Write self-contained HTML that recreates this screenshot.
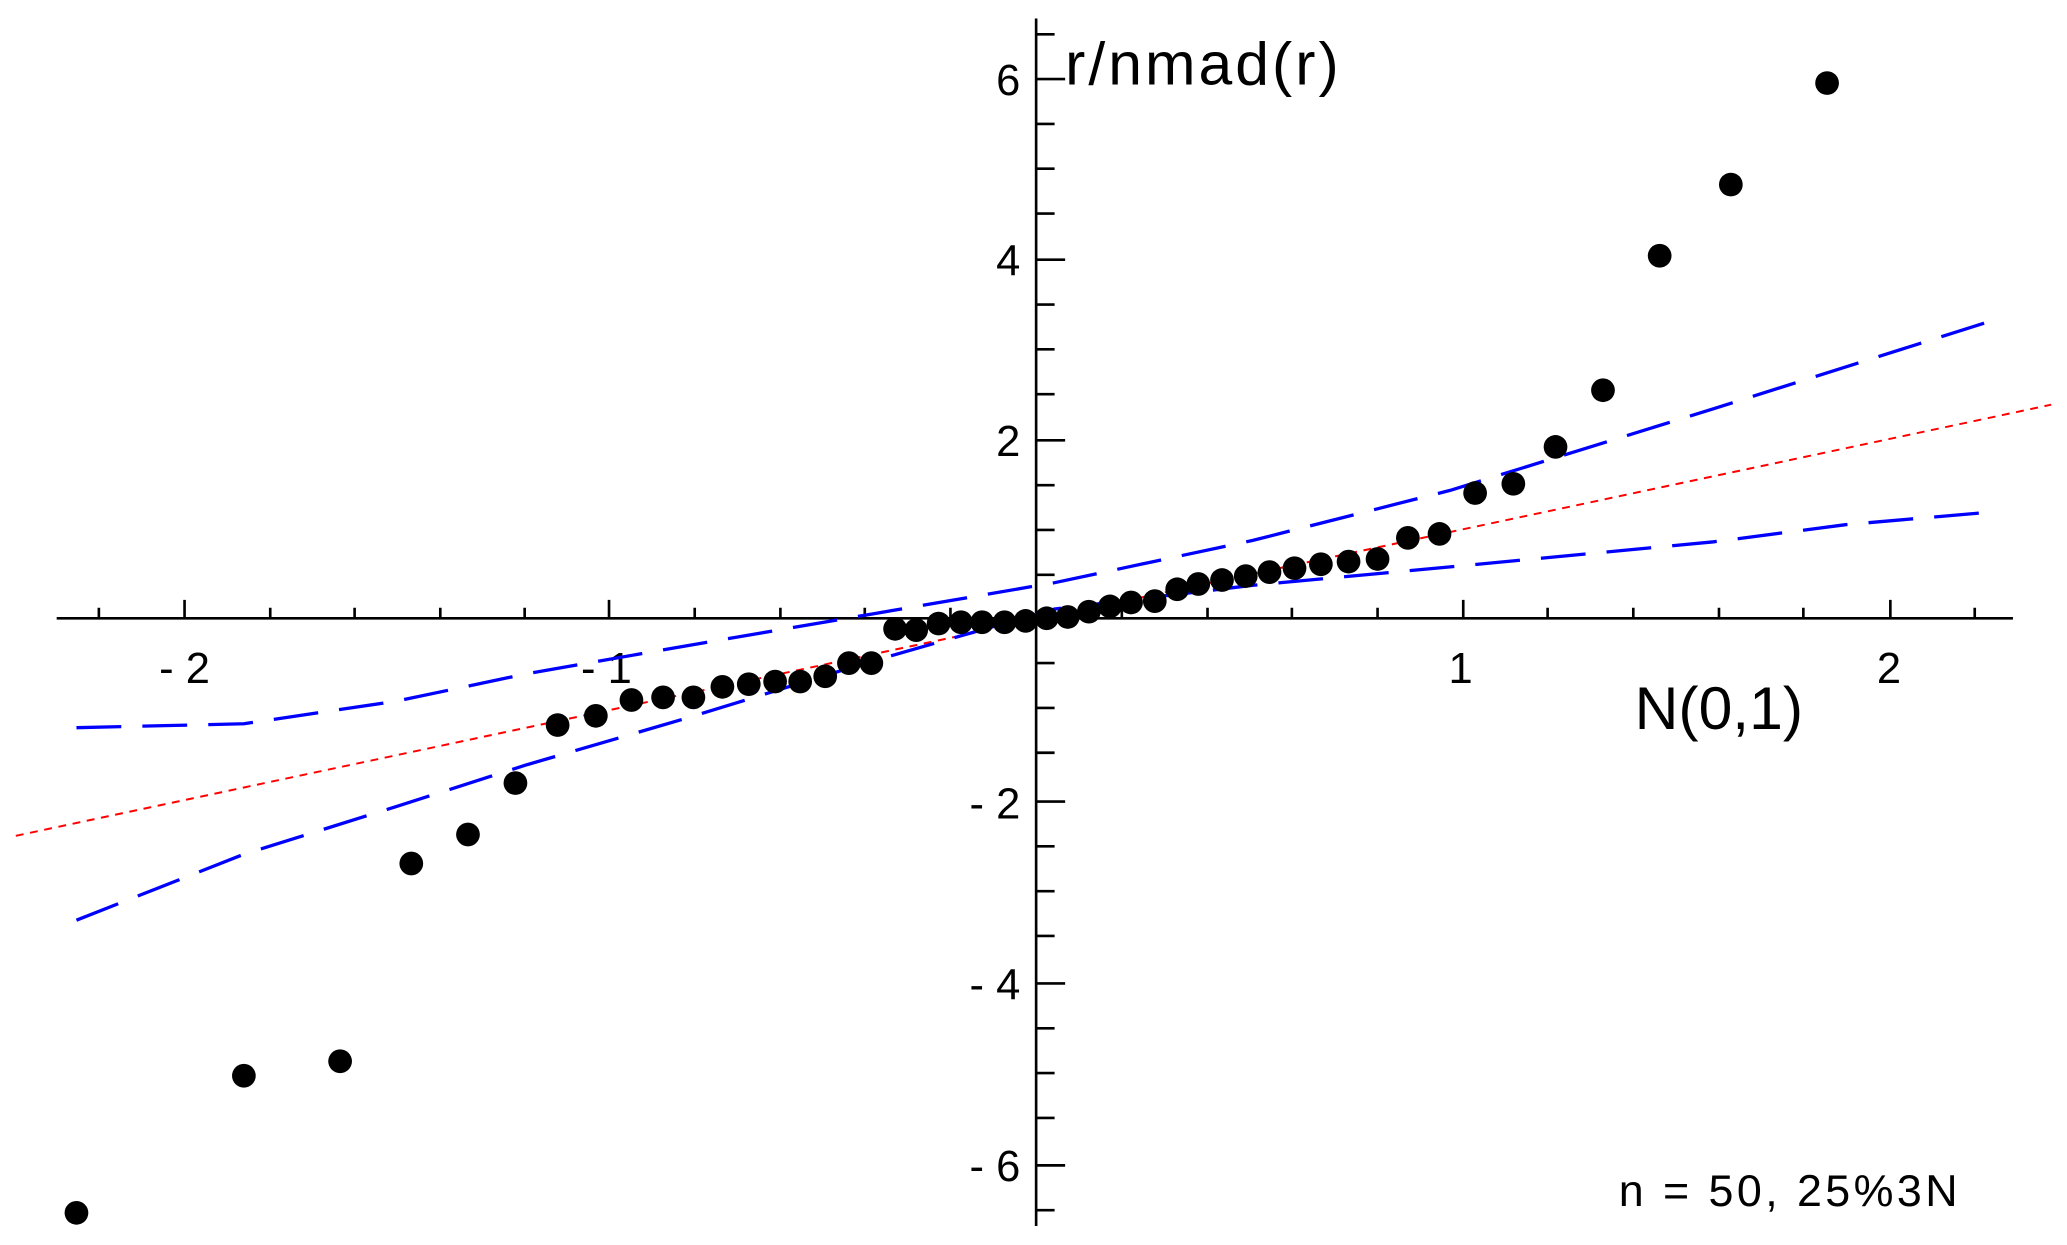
<!DOCTYPE html>
<html><head><style>html,body{margin:0;padding:0;background:#fff}svg{display:block}</style></head>
<body>
<svg width="2067" height="1245" viewBox="0 0 1568 944.4" preserveAspectRatio="none" xmlns="http://www.w3.org/2000/svg" font-family="Liberation Sans, sans-serif">
<rect width="1568" height="944.4" fill="#fff"/>
<g stroke="#000" stroke-width="2">
<line x1="43" y1="469" x2="1527" y2="469"/>
<line x1="786" y1="14" x2="786" y2="930"/>
<path d="M75 469v-8M140 469v-14M205 469v-8M269 469v-8M334 469v-8M398 469v-8M462 469v-14M527 469v-8M592 469v-8M656 469v-8M721 469v-8M851 469v-8M916 469v-8M980 469v-8M1045 469v-8M1110 469v-14M1174 469v-8M1239 469v-8M1304 469v-8M1368 469v-8M1434 469v-14M1498 469v-8"/>
</g>
<g font-size="33" fill="#000">
<text x="140" y="518" text-anchor="middle">- 2</text>
<text x="460" y="518" text-anchor="middle">- 1</text>
<text x="1108" y="518" text-anchor="middle">1</text>
<text x="1433" y="518" text-anchor="middle">2</text>
<g text-anchor="end">
<text x="774" y="72">6</text>
<text x="774" y="209">4</text>
<text x="774" y="346">2</text>
<text x="774" y="621">- 2</text>
<text x="774" y="758">- 4</text>
<text x="774" y="896">- 6</text>
</g>
</g>
<text x="808" y="64" font-size="46" letter-spacing="2.3">r/nmad(r)</text>
<text x="1240" y="553" font-size="46">N(0,1)</text>
<text x="1228" y="915" font-size="34" letter-spacing="2.6">n = 50, 25%3N</text>
<line x1="12" y1="634" x2="1556" y2="307" stroke="#f00" stroke-width="1.5" stroke-dasharray="6,5"/>
<g fill="none" stroke="#00f" stroke-width="2.5" stroke-dasharray="34,16">
<polyline points="58,552 185,549 300,532 400,511 520,490 660,466 800,442 950,410 1100,372 1300,310 1515,242"/>
<polyline points="58,698 185,648 300,612 400,580 520,545 660,502 800,462 950,444 1100,430 1300,411 1400,398 1515,388"/>
</g>
<g fill="#000">
<circle cx="58" cy="920" r="9"/><circle cx="185" cy="816" r="9"/><circle cx="258" cy="805" r="9"/><circle cx="312" cy="655" r="9"/><circle cx="355" cy="633" r="9"/><circle cx="391" cy="594" r="9"/><circle cx="423" cy="550" r="9"/><circle cx="452" cy="543" r="9"/><circle cx="479" cy="531" r="9"/><circle cx="503" cy="529" r="9"/><circle cx="526" cy="529" r="9"/><circle cx="548" cy="521" r="9"/><circle cx="568" cy="519" r="9"/><circle cx="588" cy="517" r="9"/><circle cx="607" cy="517" r="9"/><circle cx="626" cy="513" r="9"/><circle cx="644" cy="503" r="9"/><circle cx="661" cy="503" r="9"/><circle cx="679" cy="477" r="9"/><circle cx="695" cy="478" r="9"/><circle cx="712" cy="473" r="9"/><circle cx="729" cy="472" r="9"/><circle cx="745" cy="472" r="9"/><circle cx="762" cy="472" r="9"/><circle cx="778" cy="471" r="9"/><circle cx="794" cy="469" r="9"/><circle cx="810" cy="468" r="9"/><circle cx="826" cy="464" r="9"/><circle cx="842" cy="460" r="9"/><circle cx="858" cy="457" r="9"/><circle cx="876" cy="456" r="9"/><circle cx="893" cy="447" r="9"/><circle cx="909" cy="443" r="9"/><circle cx="927" cy="440" r="9"/><circle cx="945" cy="437" r="9"/><circle cx="963" cy="434" r="9"/><circle cx="982" cy="431" r="9"/><circle cx="1002" cy="428" r="9"/><circle cx="1023" cy="426" r="9"/><circle cx="1045" cy="424" r="9"/><circle cx="1068" cy="408" r="9"/><circle cx="1092" cy="405" r="9"/><circle cx="1119" cy="374" r="9"/><circle cx="1148" cy="367" r="9"/><circle cx="1180" cy="339" r="9"/><circle cx="1216" cy="296" r="9"/><circle cx="1259" cy="194" r="9"/><circle cx="1313" cy="140" r="9"/><circle cx="1386" cy="63" r="9"/>
</g>
<g stroke="#000" stroke-width="2">
<path d="M786 26h14M786 60h22M786 94h14M786 128h14M786 162h14M786 197h22M786 231h14M786 265h14M786 299h14M786 334h22M786 368h14M786 402h14M786 436h14M786 503h14M786 537h14M786 571h14M786 608h22M786 642h14M786 676h14M786 710h14M786 746h22M786 780h14M786 814h14M786 848h14M786 884h22M786 918h14"/>
</g>
</svg>
</body></html>
